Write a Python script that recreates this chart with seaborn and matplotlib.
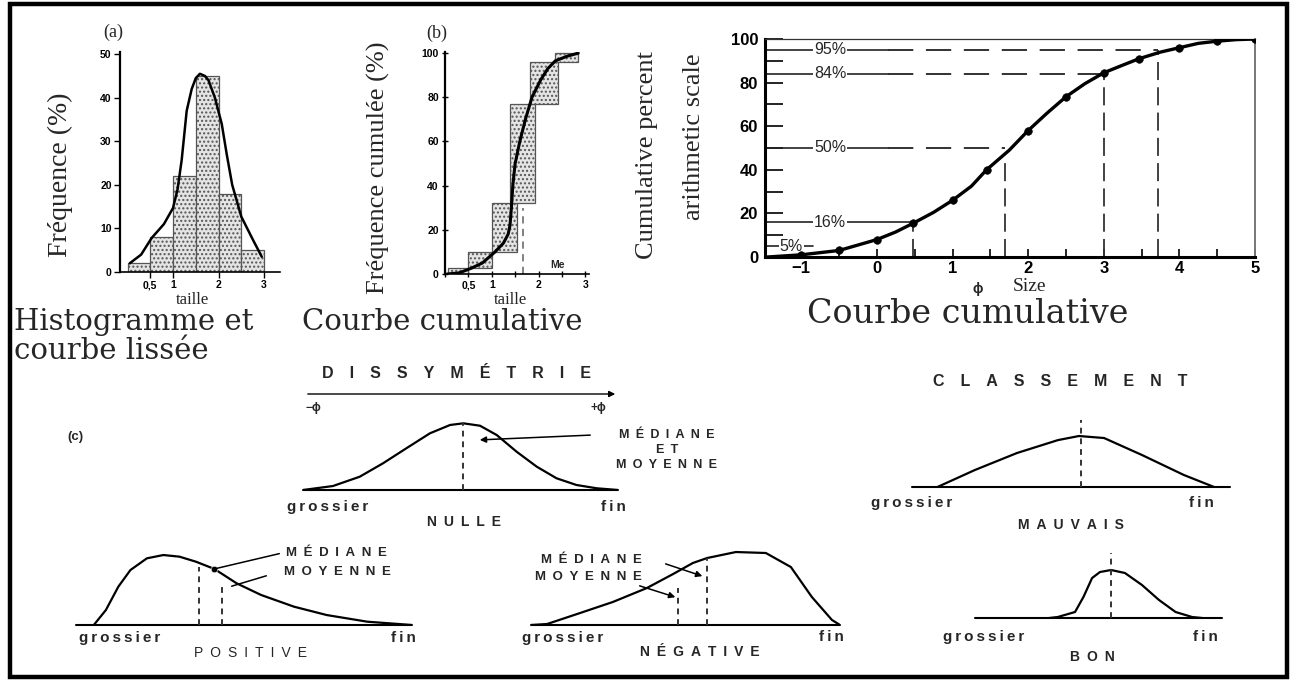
import numpy as np
import matplotlib
matplotlib.use("Agg")
import matplotlib.pyplot as plt
from matplotlib.patches import Rectangle
import seaborn as sns

sns.set_theme(style="white")
SANS = ['Liberation Sans', 'DejaVu Sans']
TIMES = ['Liberation Serif', 'DejaVu Serif']
WIDE = ['DejaVu Serif']
plt.rcParams['font.family'] = SANS

W, H = 1296, 681

# ---- (a) histogram + smoothed curve
hist_edges = [0.0, 0.5, 1.0, 1.5, 2.0, 2.5, 3.0]
hist_freq = [2, 8, 22, 45, 18, 5]
smooth_x = [0.05, 0.3, 0.53, 0.8, 1.0, 1.1, 1.19, 1.3, 1.41, 1.5, 1.59, 1.7, 1.78, 1.92, 2.07, 2.18, 2.3, 2.5, 2.76, 2.95]
smooth_y = [2, 4, 7.8, 11, 14.7, 19, 25.7, 37, 42, 44.5, 45.5, 45, 44, 40, 34, 27, 20, 12.7, 7.3, 3.5]

# ---- (b) cumulative steps + curve
cum_left = [0.06, 0.49, 1.0, 1.38, 1.82, 2.36]
cum_right = [0.49, 1.0, 1.54, 1.93, 2.42, 2.85]
cum_low = [0, 2.5, 10, 32, 77, 96]
cum_high = [2.5, 10, 32, 77, 96, 100]
cumc_x = [0.05, 0.3, 0.55, 0.8, 1.07, 1.25, 1.35, 1.39, 1.42, 1.45, 1.5, 1.6, 1.72, 1.86, 2.05, 2.2, 2.36, 2.6, 2.85]
cumc_y = [0, 0.5, 2.5, 5, 10, 14, 18, 22, 30, 40, 50, 60, 70, 80, 88, 93, 96.5, 98.5, 100]
median_b = 1.66
median_b_top = 30

# ---- right: cumulative percent vs phi
phi_pts = [-1.0, -0.5, 0.0, 0.48, 1.0, 1.45, 2.0, 2.5, 3.0, 3.47, 4.0, 4.5, 5.0]
pct_pts = [1, 3, 8, 15.5, 26, 40, 58, 73.5, 84.5, 91, 96, 99, 100]
phi_line = [-1.45, -1.0, -0.75, -0.5, -0.25, 0.0, 0.25, 0.48, 0.75, 1.0, 1.25, 1.45, 1.75, 2.0, 2.25, 2.5,
            2.75, 3.0, 3.25, 3.47, 3.75, 4.0, 4.25, 4.5, 4.75, 5.0]
pct_line = [0, 1, 2, 3, 5.5, 8, 11.5, 15.5, 20.5, 26, 32.5, 40, 49, 58, 66, 73.5,
            79.5, 84.5, 88, 91, 94, 96, 98, 99, 99.7, 100]
pct_levels = [95, 84, 50, 16, 5]
pct_phi = [3.72, 3.0, 1.7, 0.48, -0.85]
pct_vert_top = [95, 84, 45, 16, 0]

# ---- (c) schematic curves (normalised grain size / frequency)
nulle_x = [0, .095, .18, .254, .328, .403, .467, .509, .562, .615, .678, .742, .805, .868, .932, 1.0]
nulle_y = [0, .053, .177, .356, .556, .756, .867, .889, .857, .733, .511, .311, .156, .067, .023, 0]
nulle_med = 0.509

mauv_x = [0.08, 0.198, 0.33, 0.459, 0.525, 0.604, 0.723, 0.855, 0.95]
mauv_y = [0.0, 0.254, 0.507, 0.70, 0.761, 0.731, 0.478, 0.179, 0.0]
mauv_med = 0.531

pos_x = [.053, .089, .126, .162, .211, .260, .308, .357, .412, .478, .551, .649, .746, .867, 1.0]
pos_y = [0, .2, .511, .733, .889, .933, .911, .844, .747, .556, .4, .244, .133, .044, 0]
pos_median, pos_mean = 0.366, 0.435
pos_dot = (0.411, 0.747)

neg_x = [0, .052, .159, .265, .375, .460, .524, .570, .663, .760, .841, .909, .974, 1.0]
neg_y = [0, .013, .16, .307, .493, .68, .827, .893, .973, .96, .773, .373, .067, 0]
neg_mean, neg_median = 0.476, 0.57

bon_x = [0.3, 0.335, 0.405, 0.439, 0.474, 0.506, 0.551, 0.607, 0.676, 0.745, 0.812, 0.879, 0.92]
bon_y = [0, 0.013, 0.08, 0.28, 0.533, 0.613, 0.64, 0.6, 0.44, 0.24, 0.08, 0.013, 0]
bon_med = 0.551


fig = plt.figure(figsize=(W / 100, H / 100), dpi=100)
fig.patch.set_facecolor('white')


def px_axes(x0, y0, x1, y1):
    return fig.add_axes([x0 / W, 1 - y1 / H, (x1 - x0) / W, (y1 - y0) / H])


def fp(px, py):
    return (px / W, 1 - py / H)


def ftext(px, py, s, size=9.5, weight='bold', family=SANS, ha='center', va='center', **kw):
    fig.text(px / W, 1 - py / H, s, fontsize=size, fontweight=weight, family=family,
             ha=ha, va=va, **kw)


def arrow(p0, p1, head=True, lw=1.1):
    fig.add_artist(matplotlib.patches.FancyArrowPatch(
        fp(*p0), fp(*p1), transform=fig.transFigure,
        arrowstyle='-|>' if head else '-', mutation_scale=9, color='black', lw=lw))


def spaced(word, gap='\u2002'):
    return gap.join(word)


def small(word):
    # lowercase labels, lightly tracked
    return spaced(word, '\u2009')


def bold_ticks(ax, size):
    for lbl in ax.get_xticklabels() + ax.get_yticklabels():
        lbl.set_fontweight('bold')
        lbl.set_fontsize(size)


# ================= (a)
ax = px_axes(120, 52, 280, 272)
centers = [(a + b) / 2 for a, b in zip(hist_edges[:-1], hist_edges[1:])]
sns.histplot(x=centers, weights=hist_freq, bins=hist_edges, ax=ax, color='#e4e4e4',
             edgecolor='#555555', linewidth=0.9, hatch='....', alpha=1)
sns.lineplot(x=smooth_x, y=smooth_y, ax=ax, color='black', lw=1.8, sort=False)
ax.set_xlim(-0.165, 3.35)
ax.set_ylim(0, 50.5)
sns.despine(ax=ax)
ax.spines['left'].set_linewidth(1.6)
ax.spines['bottom'].set_linewidth(1.2)
for s in ('left', 'bottom'):
    ax.spines[s].set_color('black')
ax.set_yticks([0, 10, 20, 30, 40, 50])
ax.set_xticks([0.5, 1, 2, 3])
ax.set_xticklabels(['0,5', '1', '2', '3'])
ax.tick_params(axis='both', direction='out', length=4, width=1, pad=2, colors='black',
               left=True, bottom=True)
ax.set_xlabel('')
ax.set_ylabel('')
bold_ticks(ax, 7.5)
ftext(113, 32, '(a)', size=13, weight='normal', family=TIMES)
ftext(60, 175, 'Fréquence (%)', size=20, weight='normal', family=TIMES, rotation=90)
ftext(193, 300, 'taille', size=12, weight='normal', family=TIMES)
ftext(14, 322, 'Histogramme et', size=21, weight='normal', family=WIDE, ha='left')
ftext(14, 351, 'courbe lissée', size=21, weight='normal', family=WIDE, ha='left')

# ================= (b)
ax = px_axes(445, 52, 589, 274)
ax.bar(cum_left, np.subtract(cum_high, cum_low), width=np.subtract(cum_right, cum_left),
       bottom=cum_low, align='edge', color='#e4e4e4', edgecolor='#555555', linewidth=0.9,
       hatch='....')
sns.lineplot(x=cumc_x, y=cumc_y, ax=ax, color='black', lw=2.2, sort=False)
ax.vlines(median_b, 0, median_b_top, colors='#777777', linestyles=(0, (4, 3)), lw=1.3)
ax.text(2.4, 4, 'Me', fontsize=7.5, fontweight='bold', ha='center', va='center')
ax.set_xlim(0, 3.08)
ax.set_ylim(0, 100.5)
sns.despine(ax=ax)
ax.spines['left'].set_linewidth(1.6)
ax.spines['bottom'].set_linewidth(1.2)
for s in ('left', 'bottom'):
    ax.spines[s].set_color('black')
ax.set_yticks([0, 20, 40, 60, 80, 100])
ax.set_xticks([0, 0.5, 1, 1.5, 2, 2.5, 3])
ax.set_xticklabels(['', '0,5', '1', '', '2', '', '3'])
ax.tick_params(axis='both', direction='inout', length=5, width=1, pad=2, colors='black',
               left=True, bottom=True)
bold_ticks(ax, 7.5)
ftext(437, 33, '(b)', size=13, weight='normal', family=TIMES)
ftext(378, 168, 'Fréquence cumulée (%)', size=19, weight='normal', family=TIMES, rotation=90)
ftext(510, 300, 'taille', size=12, weight='normal', family=TIMES)
ftext(302, 322, 'Courbe cumulative', size=21, weight='normal', family=WIDE, ha='left')

# ================= right cumulative curve
ax = px_axes(765, 39, 1255, 257)
ax.set_xlim(-1.48, 5)
ax.set_ylim(0, 100)
for p, phi, vtop in zip(pct_levels, pct_phi, pct_vert_top):
    lx = -1.13 if p == 5 else -0.62
    solid_end = phi if p <= 16 else 0.15
    ax.plot([-1.48, solid_end], [p, p], color='#222222', lw=1.2, zorder=2)
    if solid_end < phi:
        ax.plot([solid_end, phi], [p, p], color='#222222', lw=1.3, ls=(0, (14, 7)), zorder=2)
    if vtop > 0:
        ax.vlines(phi, 0, vtop, colors='#333333', lw=1.3, linestyles=(0, (10, 4)), zorder=2)
    ax.text(lx, p, f'{p}%', fontsize=11.5, ha='center', va='center', zorder=3,
            bbox=dict(facecolor='white', edgecolor='none', pad=0.8))
sns.lineplot(x=phi_line, y=pct_line, ax=ax, color='black', lw=2.4, sort=False, zorder=4)
sns.scatterplot(x=phi_pts, y=pct_pts, ax=ax, color='black', s=30, edgecolor='black', zorder=5)
for s in ('left', 'bottom'):
    ax.spines[s].set_linewidth(2.2)
    ax.spines[s].set_color('black')
ax.spines['top'].set_linewidth(0.9)
ax.spines['top'].set_color('#333333')
ax.spines['right'].set_linewidth(1.4)
ax.spines['right'].set_color('#777777')
ax.set_yticks([0, 20, 40, 60, 80, 100])
ax.set_yticks([10, 30, 50, 70, 90], minor=True)
ax.set_xticks([-1, 0, 1, 2, 3, 4, 5])
ax.set_xticks(np.arange(-1, 5.01, 0.5), minor=True)
ax.tick_params(axis='y', which='both', direction='in', length=13, width=1.2, pad=5,
               left=True, colors='black')
ax.tick_params(axis='x', which='both', direction='in', length=6, width=1.2, pad=3,
               bottom=True, colors='black')
ax.grid(False)
bold_ticks(ax, 12)
ftext(647, 155, 'Cumulative percent', size=19, weight='normal', family=TIMES, rotation=90)
ftext(694, 137, 'arithmetic scale', size=19, weight='normal', family=TIMES, rotation=90)
ftext(978, 289, 'ϕ', size=10, weight='bold')
ftext(1029, 287, 'Size', size=14, weight='normal', family=TIMES)
ftext(968, 314, 'Courbe cumulative', size=24, weight='normal', family=WIDE)


# ================= (c) schematic distributions
def schematic(box, xs, ys):
    a = px_axes(*box)
    sns.lineplot(x=xs, y=ys, ax=a, color='black', lw=1.6, sort=False)
    a.axhline(0, color='black', lw=1.5, clip_on=False)
    a.set_xlim(0, 1)
    a.set_ylim(0, 1)
    a.axis('off')
    return a


DASH = (0, (3, 2.5))
ftext(75, 437, '(c)', size=9.5)

# NULLE
a = schematic((303, 415, 618, 490), nulle_x, nulle_y)
a.vlines(nulle_med, 0, max(nulle_y), colors='#333333', lw=1.4, linestyles=DASH)
ftext(456, 373, spaced('DISSYMÉTRIE', '\u2003'), size=11.5)
arrow((305, 394), (618, 394), lw=1.0)
ftext(313, 408, '−ϕ', size=8.5)
ftext(598, 408, '+ϕ', size=8.5)
arrow((593, 435), (477, 440))
ftext(667, 435, spaced('MÉDIANE'), size=9)
ftext(667, 450, spaced('ET'), size=9)
ftext(667, 465, spaced('MOYENNE'), size=9)
ftext(328, 507, small('grossier'), size=11)
ftext(613, 507, small('fin'), size=11)
ftext(464, 522, spaced('NULLE'), size=10)

# MAUVAIS
a = schematic((912, 420, 1230, 487), mauv_x, mauv_y)
a.vlines(mauv_med, 0, 1.0, colors='#333333', lw=1.4, linestyles=DASH)
ftext(1060, 382, spaced('CLASSEMENT', '\u2003'), size=11.5)
ftext(912, 503, small('grossier'), size=11)
ftext(1201, 503, small('fin'), size=11)
ftext(1071, 525, spaced('MAUVAIS'), size=10)

# POSITIVE
a = schematic((76, 550, 412, 625), pos_x, pos_y)
a.vlines(pos_median, 0, 0.78, colors='#333333', lw=1.4, linestyles=DASH)
a.vlines(pos_mean, 0, 0.53, colors='#333333', lw=1.4, linestyles=DASH)
sns.scatterplot(x=[pos_dot[0]], y=[pos_dot[1]], ax=a, color='black', s=22, zorder=5)
arrow((282, 553), (214, 569), head=False)
arrow((269, 575), (229, 587), head=False)
ftext(286, 553, spaced('MÉDIANE'), size=9.5, ha='left')
ftext(284, 572, spaced('MOYENNE'), size=9.5, ha='left')
ftext(120, 638, small('grossier'), size=11)
ftext(403, 638, small('fin'), size=11)
ftext(251, 653, spaced('POSITIVE'), size=10, weight='normal')

# NEGATIVE
a = schematic((531, 550, 840, 625), neg_x, neg_y)
a.vlines(neg_mean, 0, 0.5, colors='#333333', lw=1.4, linestyles=DASH)
a.vlines(neg_median, 0, 0.89, colors='#333333', lw=1.4, linestyles=DASH)
arrow((663, 563), (705, 577))
arrow((637, 585), (678, 598))
ftext(642, 560, spaced('MÉDIANE'), size=9.5, ha='right')
ftext(642, 577, spaced('MOYENNE'), size=9.5, ha='right')
ftext(563, 638, small('grossier'), size=11)
ftext(831, 637, small('fin'), size=11)
ftext(700, 652, spaced('NÉGATIVE'), size=10)

# BON
a = schematic((975, 543, 1222, 618), bon_x, bon_y)
a.vlines(bon_med, 0, 0.867, colors='#333333', lw=1.4, linestyles=DASH)
ftext(984, 637, small('grossier'), size=11)
ftext(1205, 637, small('fin'), size=11)
ftext(1092, 657, spaced('BON'), size=10)

# outer frame
fig.add_artist(Rectangle((9.5 / W, 1 - 677 / H), (1286.5 - 9.5) / W, (677 - 4) / H,
                         transform=fig.transFigure, fill=False, lw=3.2, edgecolor='black'))

fig.savefig('out.png', dpi=100, facecolor='white')
